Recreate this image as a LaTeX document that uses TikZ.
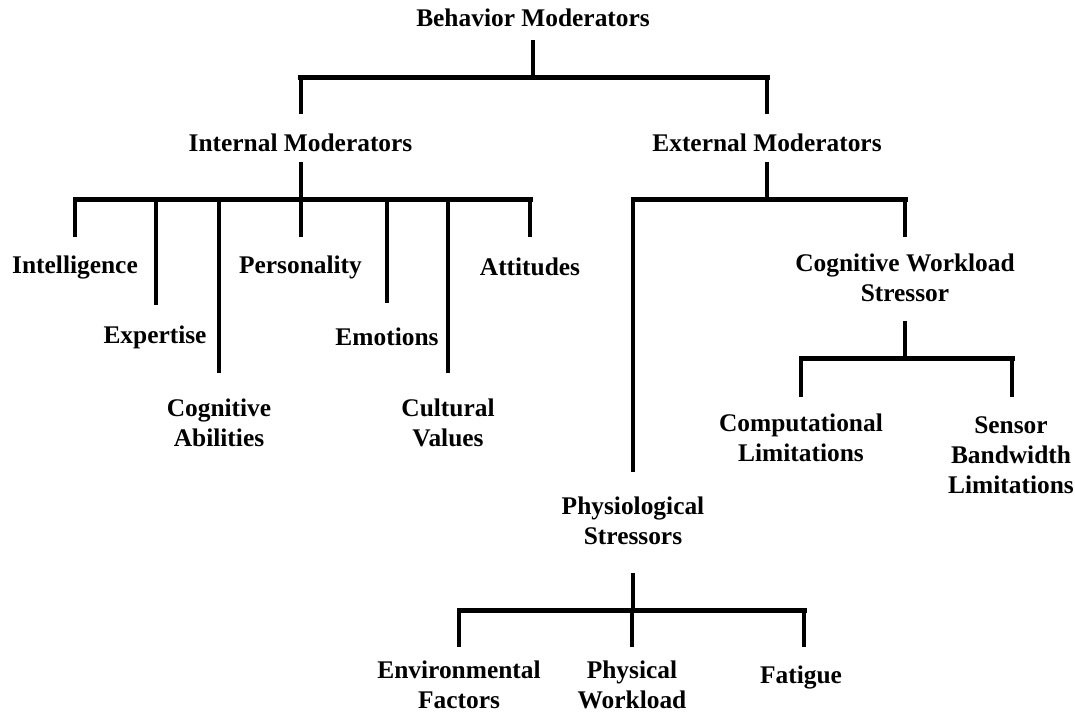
\documentclass[tikz,border=0pt]{standalone}
\usepackage{fontspec}
\setmainfont{Liberation Serif}
\begin{document}
\begin{tikzpicture}[x=1pt,y=-1pt,
  lbl/.style={font=\bfseries\fontsize{25.4}{30}\selectfont, align=center, inner sep=0pt},
  bar/.style={line width=5pt, line cap=rect},
  stem/.style={line width=4pt},
  thin/.style={line width=3.3pt}]
\useasboundingbox (0,0) rectangle (1075,715);
% nodes
\node[lbl] (bm) at (533,18) {Behavior Moderators};
\node[lbl] (im) at (300.5,143) {Internal Moderators};
\node[lbl] (em) at (767,143) {External Moderators};
\node[lbl] (int) at (75,267) {Intelligence};
\node[lbl] (exp) at (155,337) {Expertise};
\node[lbl] (cog) at (219,423) {Cognitive\\Abilities};
\node[lbl] (per) at (300.5,267) {Personality};
\node[lbl] (emo) at (387,337) {Emotions};
\node[lbl] (cul) at (448,423) {Cultural\\Values};
\node[lbl] (att) at (530,267) {Attitudes};
\node[lbl] (cws) at (905,278) {Cognitive Workload\\Stressor};
\node[lbl] (comp) at (801,438) {Computational\\Limitations};
\node[lbl] (sens) at (1011,455) {Sensor\\Bandwidth\\Limitations};
\node[lbl] (phys) at (633,521) {Physiological\\Stressors};
\node[lbl] (env) at (459,685) {Environmental\\Factors};
\node[lbl] (pw) at (632,685) {Physical\\Workload};
\node[lbl] (fat) at (801,677) {Fatigue};
% junction coordinates
\coordinate (bmT) at (533,40);  \coordinate (bmJ) at (533,77);
\coordinate (bmL) at (300.5,77); \coordinate (bmR) at (767,77);
\coordinate (imT) at (300.5,114); \coordinate (emT) at (767,114);
\coordinate (imS) at (300.5,162); \coordinate (imJ) at (300.5,199);
\coordinate (imL) at (75,199); \coordinate (imR) at (530,199);
\coordinate (intT) at (75,237);
\coordinate (expJ) at (156,199); \coordinate (expT) at (156,305);
\coordinate (cogJ) at (219,199); \coordinate (cogT) at (219,373);
\coordinate (perT) at (300.5,237);
\coordinate (emoJ) at (387,199); \coordinate (emoT) at (387,303);
\coordinate (culJ) at (448,199); \coordinate (culT) at (448,373);
\coordinate (attT) at (530,237);
\coordinate (emS) at (767,162); \coordinate (emJ) at (767,199);
\coordinate (emL) at (633,199); \coordinate (emR) at (905,199);
\coordinate (physT) at (633,472); \coordinate (cwsT) at (905,237);
\coordinate (cwsS) at (905,321); \coordinate (cwsJ) at (905,358);
\coordinate (cwsL) at (801,358); \coordinate (cwsR) at (1012,358);
\coordinate (compT) at (801,397); \coordinate (sensT) at (1012,397);
\coordinate (physS) at (633,573); \coordinate (physJ) at (633,610);
\coordinate (physL) at (459,610); \coordinate (physR) at (804,610);
\coordinate (envT) at (459,647); \coordinate (pwJ) at (632,610);
\coordinate (pwT) at (632,647); \coordinate (fatT) at (804,647);
% Behavior Moderators
\draw[stem] (bmT) -- (bmJ);
\draw[bar] (bmL) -- (bmR);
\draw[stem] (bmL) -- (imT);
\draw[stem] (bmR) -- (emT);
% Internal Moderators
\draw[stem] (imS) -- (imJ);
\draw[bar] (imL) -- (imR);
\draw[stem] (imL) -- (intT);
\draw[thin] (expJ) -- (expT);
\draw[thin] (cogJ) -- (cogT);
\draw[stem] (imJ) -- (perT);
\draw[thin] (emoJ) -- (emoT);
\draw[thin] (culJ) -- (culT);
\draw[stem] (imR) -- (attT);
% External Moderators
\draw[stem] (emS) -- (emJ);
\draw[bar] (emL) -- (emR);
\draw[stem] (emL) -- (physT);
\draw[stem] (emR) -- (cwsT);
% Cognitive Workload Stressor
\draw[stem] (cwsS) -- (cwsJ);
\draw[bar] (cwsL) -- (cwsR);
\draw[stem] (cwsL) -- (compT);
\draw[stem] (cwsR) -- (sensT);
% Physiological Stressors
\draw[thin] (physS) -- (physJ);
\draw[bar] (physL) -- (physR);
\draw[stem] (physL) -- (envT);
\draw[thin] (pwJ) -- (pwT);
\draw[stem] (physR) -- (fatT);
\end{tikzpicture}
\end{document}
